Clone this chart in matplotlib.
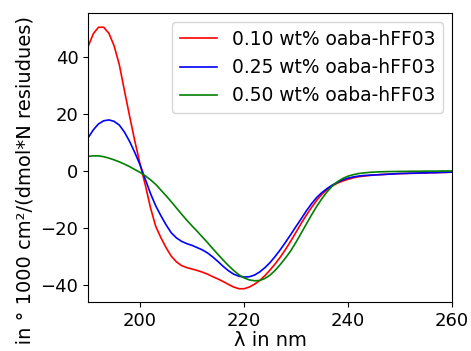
#!usr/bin/env python3
# -*- coding: utf-8 -*-

"""
CD spectra of oaba-hFF03 at three concentrations.
"""

import matplotlib
matplotlib.use('Agg')
import matplotlib.pyplot as plt
import numpy as np


wavelength = np.arange(190, 261)

theta_010 = [
    43.5, 48.0, 50.3, 50.3, 48.2, 43.8, 37.2, 28.0, 19.0, 10.3,
    2.3, -5.0, -13.0, -19.5, -23.5, -27.0, -30.0, -32.0, -33.3, -34.0,
    -34.5, -35.0, -35.6, -36.3, -37.2, -38.0, -38.9, -39.9, -40.8, -41.4,
    -41.4, -40.8, -39.8, -38.5, -36.8, -34.8, -32.6, -30.2, -27.5, -24.6,
    -21.5, -18.4, -15.5, -12.8, -10.3, -8.2, -6.6, -5.3, -4.3, -3.6,
    -3.0, -2.5, -2.1, -1.9, -1.7, -1.5, -1.4, -1.3, -1.2, -1.1,
    -1.0, -1.0, -0.9, -0.9, -0.8, -0.8, -0.7, -0.7, -0.6, -0.6,
    -0.5,
]

theta_025 = [
    11.5, 14.3, 16.4, 17.5, 17.8, 17.3, 16.0, 13.5, 10.2, 6.3,
    2.0, -3.0, -8.0, -12.3, -15.8, -19.0, -21.8, -23.6, -24.8, -25.6,
    -26.2, -27.0, -27.8, -28.9, -30.3, -31.9, -33.6, -35.1, -36.3, -37.0,
    -37.3, -37.2, -36.6, -35.5, -34.0, -32.2, -30.0, -27.6, -25.0, -22.3,
    -19.5, -16.8, -14.0, -11.5, -9.3, -7.6, -6.2, -5.0, -4.0, -3.2,
    -2.6, -2.2, -1.9, -1.7, -1.6, -1.5, -1.4, -1.3, -1.2, -1.1,
    -1.0, -0.95, -0.9, -0.85, -0.8, -0.75, -0.7, -0.65, -0.6, -0.55,
    -0.5,
]

theta_050 = [
    5.0, 5.2, 5.2, 4.9, 4.4, 3.8, 3.1, 2.3, 1.4, 0.4,
    -0.6, -1.8, -3.2, -4.8, -6.8, -8.8, -10.9, -13.1, -15.3, -17.4,
    -19.4, -21.3, -23.3, -25.3, -27.4, -29.4, -31.4, -33.3, -35.0, -36.5,
    -37.6, -38.3, -38.6, -38.5, -37.8, -36.6, -34.9, -32.8, -30.5, -28.0,
    -25.0, -21.8, -18.6, -15.4, -12.4, -9.7, -7.3, -5.3, -3.8, -2.7,
    -1.9, -1.4, -1.0, -0.8, -0.6, -0.5, -0.4, -0.35, -0.3, -0.3,
    -0.25, -0.25, -0.2, -0.2, -0.2, -0.15, -0.15, -0.15, -0.1, -0.1,
    -0.1,
]

labels = ['0.10 wt% oaba-hFF03', '0.25 wt% oaba-hFF03', '0.50 wt% oaba-hFF03']
colors = ['red', 'blue', 'green']

plt.rcParams['font.size'] = 14

fig = plt.figure(figsize=(4.71, 3.51), dpi=100)
ax = fig.add_axes([0.187, 0.14, 0.773, 0.823])

for series, label, color in zip([theta_010, theta_025, theta_050], labels, colors):
    ax.plot(wavelength, series, color=color, linewidth=1.2, label=label)

ax.set_xlim(190, 260)
ax.set_ylim(-46, 55.3)
ax.set_xticks([200, 220, 240, 260])
ax.set_yticks([-40, -20, 0, 20, 40])
ax.tick_params(labelsize=13)
ax.set_xlabel('λ in nm', labelpad=1)
ax.set_ylabel('Θ in ° 1000 cm²/(dmol*N resiudues)', labelpad=4)
# the label sits a bit low in the original, running off the bottom edge
ax.yaxis.label.set_y(0.385)
ax.legend(loc='upper right', fontsize=13.4)

fig.savefig('out.png', dpi=100)
